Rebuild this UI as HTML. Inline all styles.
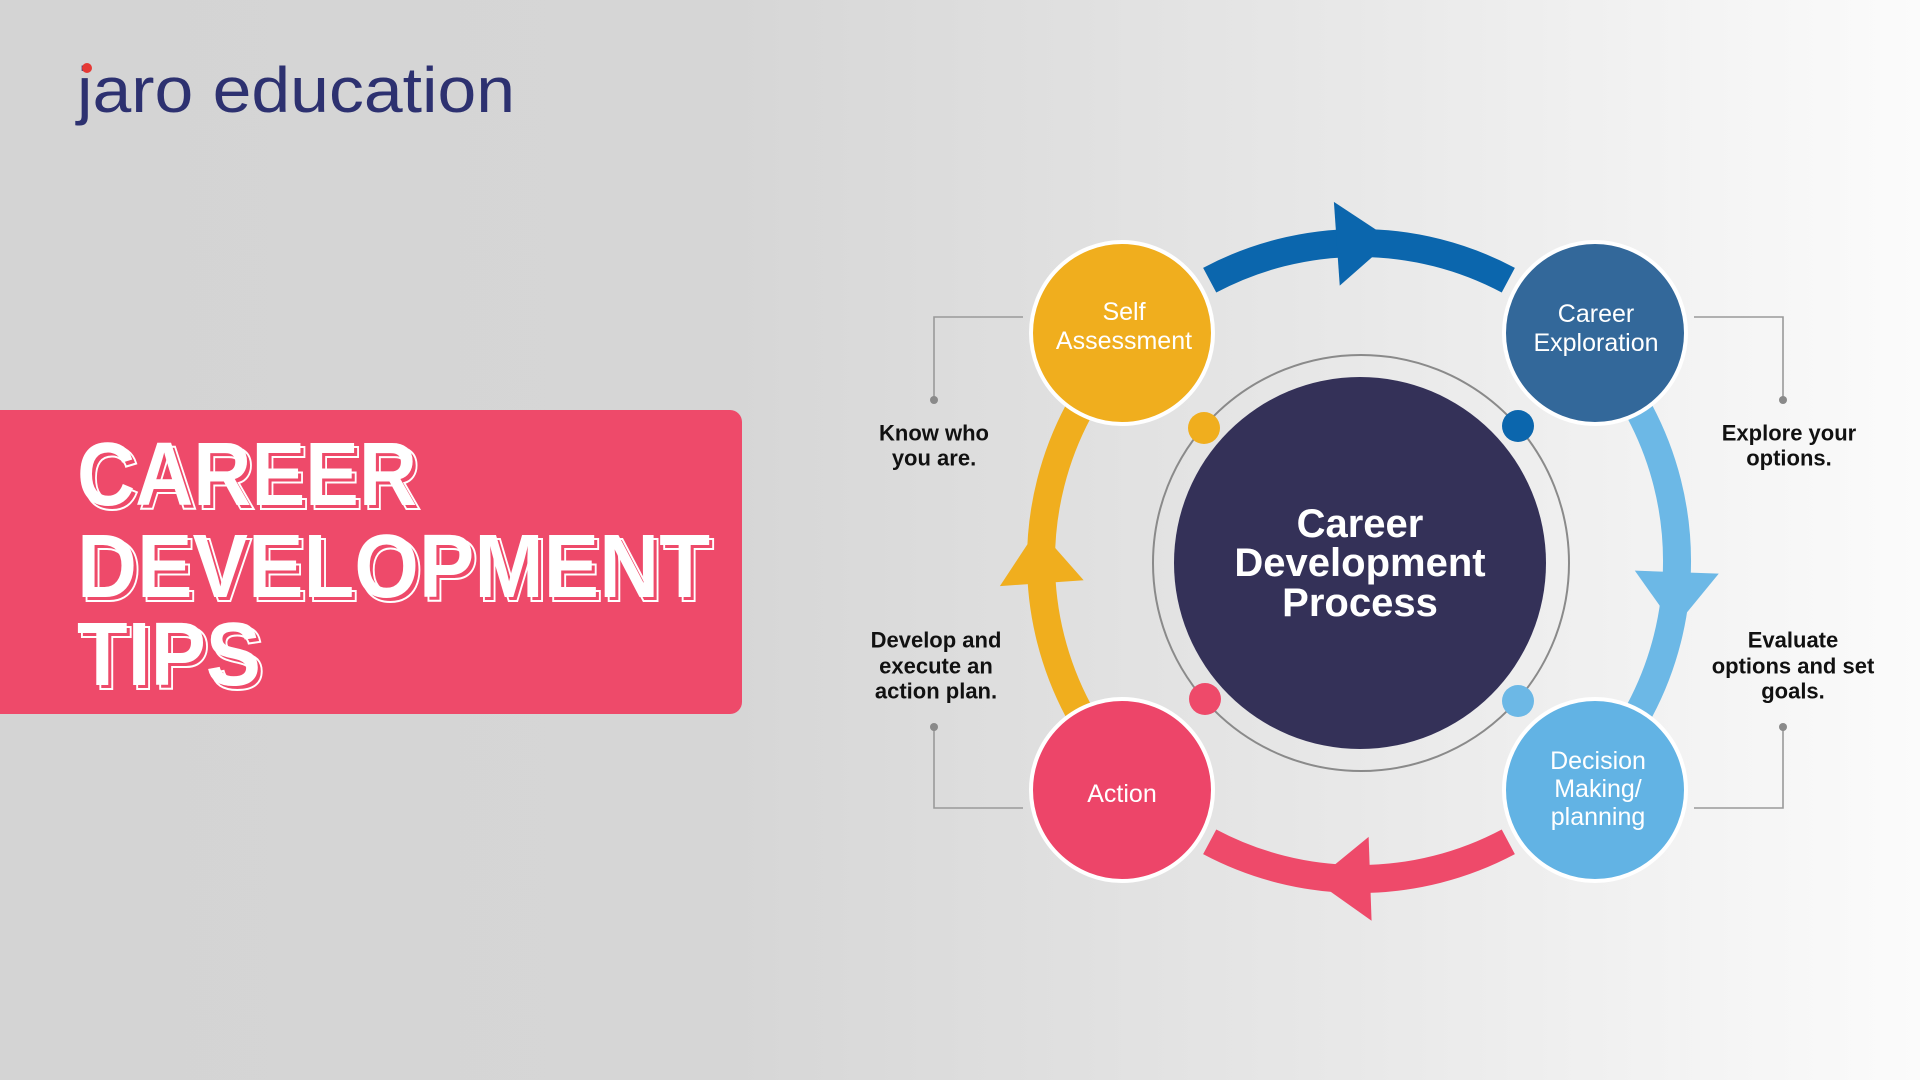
<!DOCTYPE html>
<html><head><meta charset="utf-8"><style>
html,body{margin:0;padding:0;width:1920px;height:1080px;overflow:hidden}
svg{display:block}
text{font-family:"Liberation Sans",sans-serif}
</style></head><body>
<svg width="1920" height="1080" viewBox="0 0 1920 1080" xmlns="http://www.w3.org/2000/svg">
<defs>
<linearGradient id="bg" x1="0" y1="0" x2="1" y2="0">
<stop offset="0" stop-color="#d4d4d4"/><stop offset="0.38" stop-color="#d6d6d6"/><stop offset="0.7" stop-color="#e8e8e8"/><stop offset="1" stop-color="#fbfbfb"/>
</linearGradient>
</defs>
<rect width="1920" height="1080" fill="url(#bg)"/>
<text x="77" y="112" font-size="64" fill="#2d3170" textLength="438" lengthAdjust="spacingAndGlyphs">jaro education</text>
<circle cx="87" cy="68" r="5" fill="#e53935"/>
<path d="M0 410 H730 a12 12 0 0 1 12 12 V702 a12 12 0 0 1 -12 12 H0 Z" fill="#ee4a6a"/>
<g font-weight="bold" font-size="90">
<g fill="#ee4a6a" stroke="#fff" stroke-width="2" transform="translate(4,4)">
<text x="77" y="505" textLength="340" lengthAdjust="spacingAndGlyphs">CAREER</text>
<text x="77" y="597" textLength="633" lengthAdjust="spacingAndGlyphs">DEVELOPMENT</text>
<text x="77" y="685" textLength="184" lengthAdjust="spacingAndGlyphs">TIPS</text>
</g>
<g fill="#fff">
<text x="77" y="505" textLength="340" lengthAdjust="spacingAndGlyphs">CAREER</text>
<text x="77" y="597" textLength="633" lengthAdjust="spacingAndGlyphs">DEVELOPMENT</text>
<text x="77" y="685" textLength="184" lengthAdjust="spacingAndGlyphs">TIPS</text>
</g>
</g>
<g transform="translate(-11,-2)">
<g fill="none" stroke-width="28">
<path d="M1220.7 282.2 A318 318 0 0 1 1519.3 282.2" stroke="#0b66ad"/>
<path d="M1650.8 413.7 A318 318 0 0 1 1650.8 712.3" stroke="#6cb8e6"/>
<path d="M1519.3 843.8 A318 318 0 0 1 1220.7 843.8" stroke="#ee4a6a"/>
<path d="M1089.2 712.3 A318 318 0 0 1 1089.2 413.7" stroke="#f0ae1e"/>
</g>
<polygon points="1646,563 1730,563 1688,618" fill="#0b66ad" transform="rotate(-94 1370 563)"/>
<polygon points="1646,563 1730,563 1688,618" fill="#6cb8e6" transform="rotate(2 1370 563)"/>
<polygon points="1646,563 1730,563 1688,618" fill="#ee4a6a" transform="rotate(88 1370 563)"/>
<polygon points="1646,563 1730,563 1688,618" fill="#f0ae1e" transform="rotate(176 1370 563)"/>
<circle cx="1372" cy="565" r="208" fill="none" stroke="#8a8a8a" stroke-width="2"/>
<circle cx="1371" cy="565" r="186" fill="#343158"/>
<circle cx="1215" cy="430" r="16" fill="#f0ae1e"/>
<circle cx="1529" cy="428" r="16" fill="#0b66ad"/>
<circle cx="1529" cy="703" r="16" fill="#6cb8e6"/>
<circle cx="1216" cy="701" r="16" fill="#ee4a6a"/>
<g fill="#fff" font-weight="bold" font-size="40" text-anchor="middle" dominant-baseline="central">
<text x="1371" y="526">Career</text>
<text x="1371" y="565">Development</text>
<text x="1371" y="605">Process</text>
</g>
<g stroke="#fff" stroke-width="4">
<circle cx="1133" cy="335" r="91" fill="#f0ae1e"/>
<circle cx="1606" cy="335" r="91" fill="#33689a"/>
<circle cx="1606" cy="792" r="91" fill="#62b3e4"/>
<circle cx="1133" cy="792" r="91" fill="#ed4569"/>
</g>
<g fill="#fff" font-size="25" text-anchor="middle" dominant-baseline="central">
<text x="1135" y="314">Self</text><text x="1135" y="343">Assessment</text>
<text x="1607" y="316">Career</text><text x="1607" y="345">Exploration</text>
<text x="1609" y="763">Decision</text><text x="1609" y="791">Making/</text><text x="1609" y="819">planning</text>
<text x="1133" y="796">Action</text>
</g>
<g fill="none" stroke="#9a9a9a" stroke-width="1.6">
<path d="M1034 319 H945 V402"/><path d="M945 729 V810 H1034"/>
<path d="M1705 319 H1794 V402"/><path d="M1794 729 V810 H1705"/>
</g>
<g fill="#8a8a8a"><circle cx="945" cy="402" r="4"/><circle cx="945" cy="729" r="4"/><circle cx="1794" cy="402" r="4"/><circle cx="1794" cy="729" r="4"/></g>
<g fill="#111" font-weight="bold" font-size="22" text-anchor="middle" dominant-baseline="central">
<text x="945" y="435">Know who</text><text x="945" y="460">you are.</text>
<text x="947" y="642">Develop and</text><text x="947" y="668">execute an</text><text x="947" y="693">action plan.</text>
<text x="1800" y="435">Explore your</text><text x="1800" y="460">options.</text>
<text x="1804" y="642">Evaluate</text><text x="1804" y="668">options and set</text><text x="1804" y="693">goals.</text>
</g>
</g>
</svg>
</body></html>
